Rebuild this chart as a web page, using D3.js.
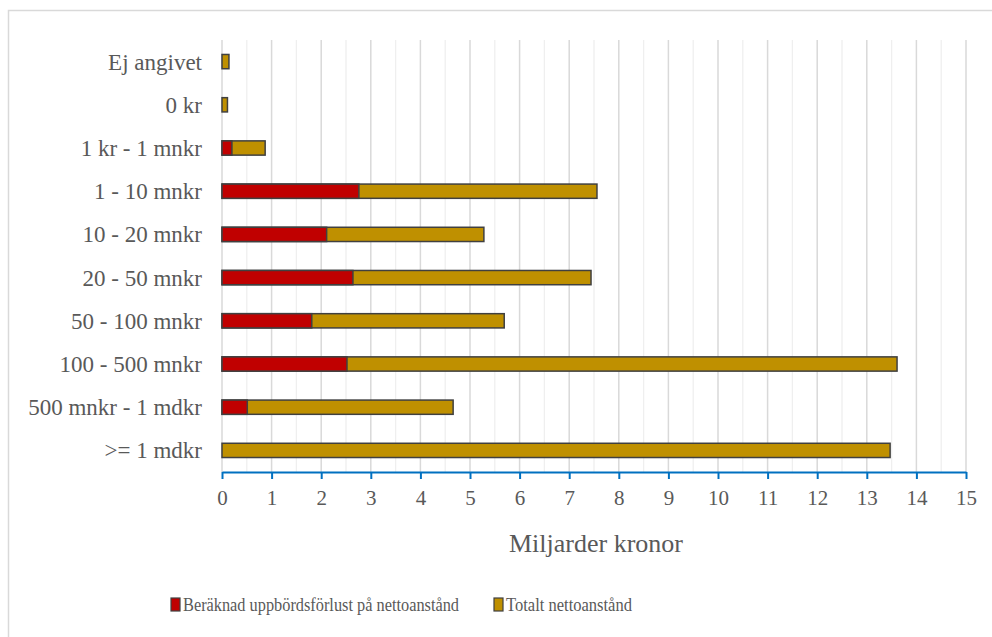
<!DOCTYPE html>
<html>
<head>
<meta charset="utf-8">
<title>Nettoanstånd</title>
<script src="https://d3js.org/d3.v7.min.js"></script>
<style>
body, html { margin: 0; padding: 0; background: #fff; }
svg { display: block; font-family: "Liberation Serif", "DejaVu Serif", serif; }
text { fill: #595959; }
</style>
</head>
<body>
<svg id="chart" width="992" height="637"></svg>
<script>
const categories = ["Ej angivet", "0 kr", "1 kr - 1 mnkr", "1 - 10 mnkr", "10 - 20 mnkr",
  "20 - 50 mnkr", "50 - 100 mnkr", "100 - 500 mnkr", "500 mnkr - 1 mdkr", ">= 1 mdkr"];
const forlust = [0, 0, 0.2, 2.76, 2.11, 2.64, 1.81, 2.52, 0.51, 0];
const totalt = [0.14, 0.11, 0.87, 7.56, 5.28, 7.44, 5.69, 13.61, 4.66, 13.47];
const xTicks = d3.range(0, 16);
const seriesNames = ["Beräknad uppbördsförlust på nettoanstånd", "Totalt nettoanstånd"];
const colors = ["#c00000", "#bf9000"];

const svg = d3.select("#chart");
const serif = "'Liberation Serif', 'DejaVu Serif', serif";

// chart frame (right and bottom edges fall outside the picture)
svg.append("rect")
  .attr("x", 8.5).attr("y", 10.5)
  .attr("width", 1000).attr("height", 700)
  .attr("fill", "none").attr("stroke", "#d9d9d9").attr("stroke-width", 1.5);

const margin = { left: 222, right: 26, top: 40, bottom: 165 };
const width = 992 - margin.left - margin.right;
const height = 637 - margin.top - margin.bottom;

const g = svg.append("g").attr("transform", `translate(${margin.left},${margin.top})`);

const x = d3.scaleLinear().domain([0, 15]).range([0, width]);
const y = d3.scaleBand().domain(categories).range([0, height]).paddingInner(0.67).paddingOuter(0.335);

// minor gridlines
g.selectAll(".minor").data(d3.range(0.5, 15, 1)).join("line")
  .attr("x1", d => x(d)).attr("x2", d => x(d))
  .attr("y1", 0).attr("y2", height)
  .attr("stroke", "#efefef").attr("stroke-width", 1.3);

// major gridlines
g.selectAll(".major").data(xTicks).join("line")
  .attr("x1", d => x(d)).attr("x2", d => x(d))
  .attr("y1", 0).attr("y2", height)
  .attr("stroke", "#d9d9d9").attr("stroke-width", 1.5);

// bars: total from zero, loss drawn over it
g.selectAll(".tot").data(categories).join("rect")
  .attr("x", x(0)).attr("y", d => y(d))
  .attr("width", (d, i) => x(totalt[i]) - x(0))
  .attr("height", y.bandwidth())
  .attr("fill", colors[1]).attr("stroke", "#404040").attr("stroke-width", 1.5);

g.selectAll(".loss").data(categories.filter((d, i) => forlust[i] > 0)).join("rect")
  .attr("x", x(0)).attr("y", d => y(d))
  .attr("width", d => x(forlust[categories.indexOf(d)]) - x(0))
  .attr("height", y.bandwidth())
  .attr("fill", colors[0]).attr("stroke", "#404040").attr("stroke-width", 1.5);

// category labels
g.selectAll(".cat").data(categories).join("text")
  .attr("x", -20).attr("y", d => y(d) + y.bandwidth() / 2)
  .attr("dy", "0.35em").attr("text-anchor", "end")
  .style("font-size", "23px").style("font-family", serif)
  .text(d => d);

// x axis
const axis = g.append("g").attr("transform", `translate(0,${height})`);
axis.call(d3.axisBottom(x).tickValues(d3.range(0.5, 15, 1)).tickSize(5).tickFormat(""))
  .call(a => a.select(".domain").remove());
axis.call(d3.axisBottom(x).tickValues(xTicks).tickSize(7).tickSizeOuter(0).tickPadding(11).tickFormat(d3.format("d")));
axis.selectAll("line").attr("stroke", "#0070c0").attr("stroke-width", 2);
axis.selectAll(".domain").attr("stroke", "#0070c0").attr("stroke-width", 2);
axis.selectAll("text").style("font-size", "21px").attr("fill", "#595959")
  .style("font-family", serif);

g.append("text")
  .attr("x", width / 2 + 2).attr("y", height + 80)
  .attr("text-anchor", "middle").style("font-size", "26px").style("font-family", serif)
  .text("Miljarder kronor");

// legend
const legend = svg.append("g").attr("transform", "translate(0,605)");
const legendX = [171, 494];
const legendW = [276, 126];
seriesNames.forEach((name, i) => {
  legend.append("rect")
    .attr("x", legendX[i]).attr("y", -7).attr("width", 9).attr("height", 13)
    .attr("fill", colors[i]).attr("stroke", "#404040").attr("stroke-width", 1.2);
  legend.append("text")
    .attr("x", legendX[i] + 12).attr("y", 0).attr("dy", "0.35em")
    .style("font-size", "18px").style("font-family", serif)
    .attr("textLength", legendW[i]).attr("lengthAdjust", "spacingAndGlyphs")
    .text(name);
});
</script>
</body>
</html>
